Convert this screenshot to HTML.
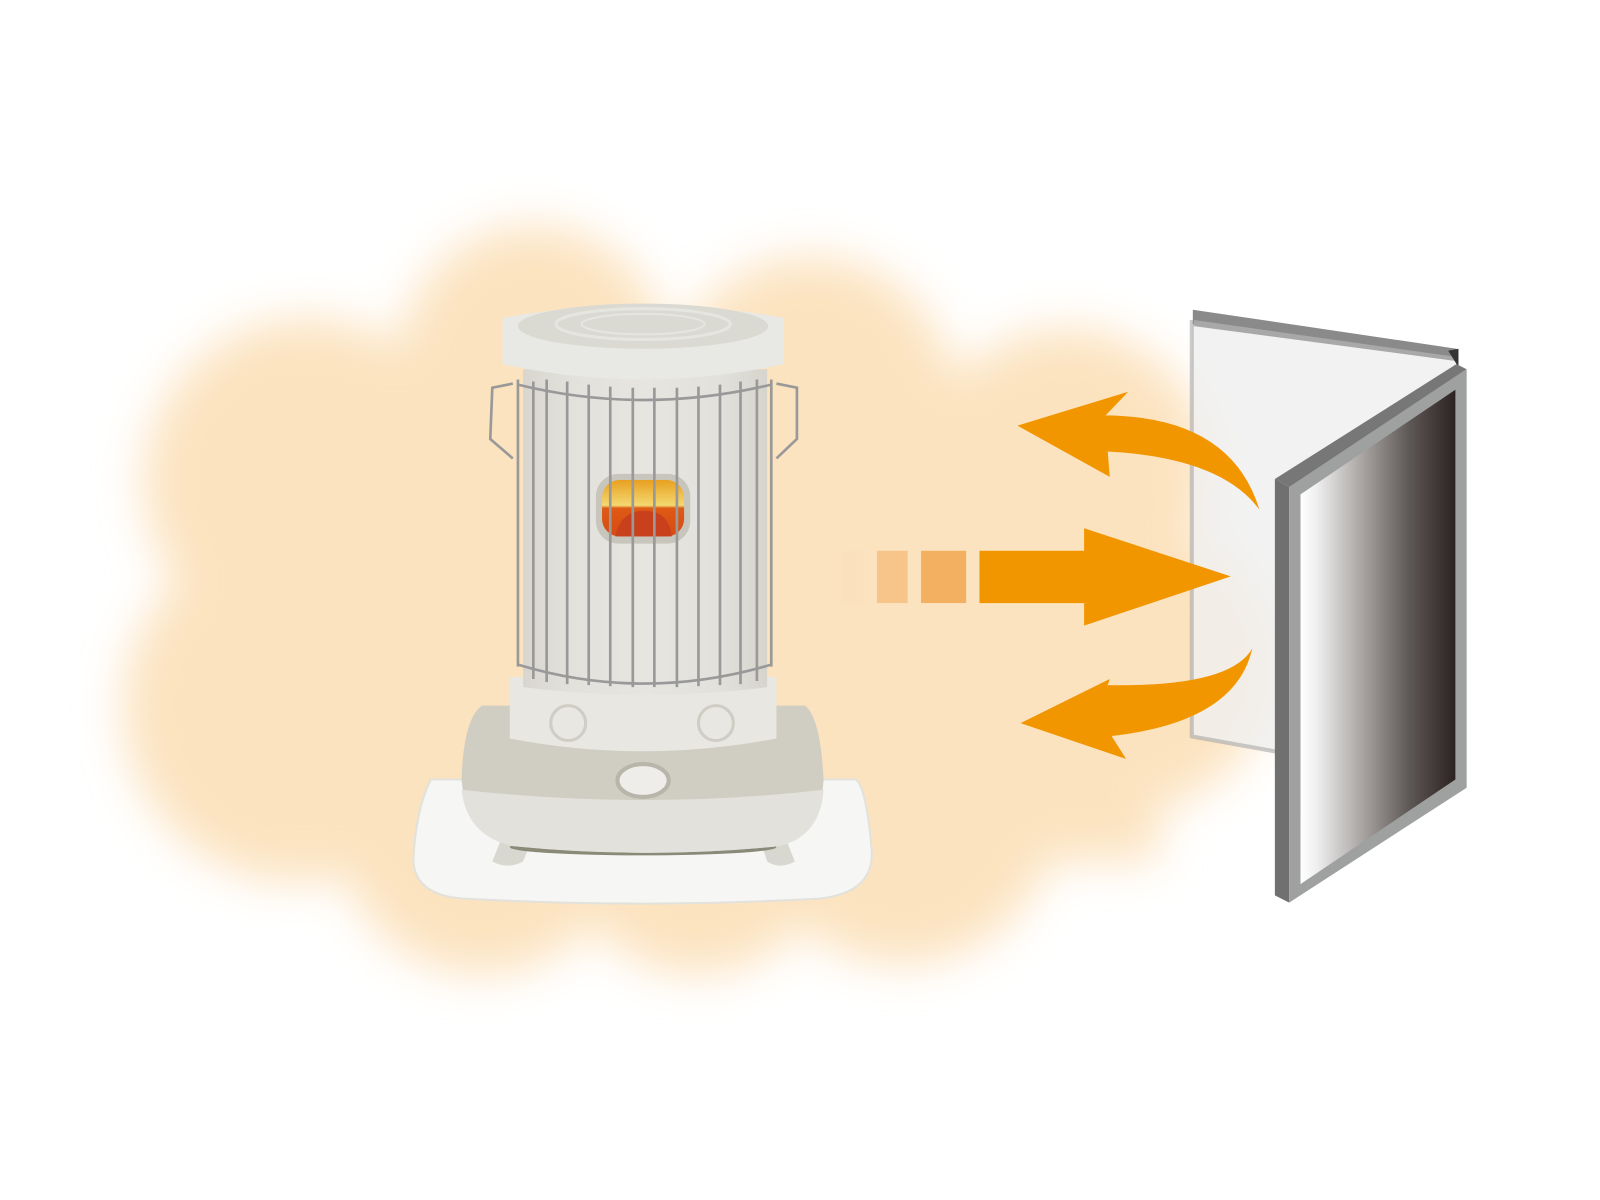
<!DOCTYPE html>
<html><head><meta charset="utf-8"><style>html,body{margin:0;padding:0;background:#fff}svg{display:block}</style></head>
<body>
<svg width="1600" height="1200" viewBox="0 0 1560 1170" xmlns="http://www.w3.org/2000/svg">
<defs>
<filter id="bl" x="-20%" y="-20%" width="140%" height="140%"><feGaussianBlur stdDeviation="22"/></filter>
<linearGradient id="flame" x1="0" y1="0" x2="0" y2="1">
<stop offset="0" stop-color="#e8a020"/><stop offset="0.45" stop-color="#f3d870"/><stop offset="0.5" stop-color="#dd5a14"/><stop offset="1" stop-color="#d84a14"/></linearGradient>
<linearGradient id="mirror" x1="0" y1="0" x2="1" y2="0">
<stop offset="0" stop-color="#ffffff"/><stop offset="0.1" stop-color="#f0f0f0"/><stop offset="0.4" stop-color="#a8a4a2"/><stop offset="0.7" stop-color="#5e5856"/><stop offset="1" stop-color="#2c2222"/></linearGradient>
<linearGradient id="body" x1="0" y1="0" x2="1" y2="0">
<stop offset="0" stop-color="#d8d6ce"/><stop offset="0.2" stop-color="#e2e1dc"/><stop offset="0.5" stop-color="#e6e5e0"/><stop offset="0.8" stop-color="#e2e1dc"/><stop offset="1" stop-color="#d6d4cc"/></linearGradient>
</defs>
<g fill="#fce3c0" filter="url(#bl)">
<circle cx="300" cy="470" r="160"/><circle cx="520" cy="350" r="130"/><circle cx="790" cy="390" r="140"/>
<circle cx="1040" cy="460" r="140"/><circle cx="290" cy="690" r="170"/><circle cx="470" cy="810" r="140"/>
<circle cx="680" cy="820" r="130"/><circle cx="880" cy="790" r="150"/><circle cx="1100" cy="650" r="140"/>
<rect x="280" y="360" width="850" height="480"/>
</g>
<!-- reflector back panel -->
<path d="M1162 312 L1420 345 L1420 740 L1245 733 L1162 718 Z" fill="#efefef" fill-opacity="0.8"/>
<path d="M1162 312 L1162 718 L1245 733" fill="none" stroke="#a8a8a8" stroke-width="4" stroke-opacity="0.6"/>
<path d="M1163 302 L1420 340 L1420 352 L1163 316 Z" fill="#8a8a8a"/>
<path d="M1164 312 L1420 348 L1420 352 L1164 318 Z" fill="#a8a8a8"/>
<path d="M1412 342 L1422 340 L1422 358 Z" fill="#333"/>
<!-- mat -->
<path d="M420 760 L835 760 Q845 770 850 830 Q852 870 800 876 Q630 886 450 876 Q405 872 403 840 Q405 790 420 760 Z" fill="#f6f6f4" stroke="#e2e1dc" stroke-width="2"/>
<path d="M490 815 L520 815 L510 840 Q495 848 480 840 Z" fill="#d8d7d0"/>
<path d="M740 815 L765 815 L775 840 Q760 848 748 840 Z" fill="#d8d7d0"/>
<ellipse cx="627" cy="826" rx="130" ry="8" fill="#8a8a78"/>
<path d="M470 688 L785 688 Q800 700 803 760 Q800 815 760 825 Q630 838 500 825 Q455 815 450 760 Q452 700 470 688 Z" fill="#d0cdc2"/>
<path d="M450 770 Q630 790 803 770 Q800 815 760 825 Q630 838 500 825 Q455 815 450 770 Z" fill="#e2e1dc"/>
<ellipse cx="627" cy="761" rx="25" ry="16" fill="#eeede9" stroke="#b8b6aa" stroke-width="4"/>
<path d="M497 660 L757 660 L757 720 Q627 745 497 720 Z" fill="#e8e7e2"/>
<circle cx="554" cy="705" r="17" fill="#e8e7e2" stroke="#cfcdc4" stroke-width="3"/>
<circle cx="698" cy="705" r="17" fill="#e8e7e2" stroke="#cfcdc4" stroke-width="3"/>
<path d="M510 360 L748 360 L748 670 Q627 685 510 670 Z" fill="url(#body)"/>
<rect x="581" y="462" width="92" height="68" rx="22" fill="#c8c6bc"/>
<rect x="587" y="468" width="80" height="55" rx="17" fill="url(#flame)"/>
<path d="M600 523 Q605 498 628 498 Q652 498 655 523 Z" fill="#c8401c"/>
<path d="M490 310 Q627 285 764 310 L764 355 Q627 385 490 355 Z" fill="#e8e8e4"/>
<ellipse cx="627" cy="318" rx="122" ry="22" fill="#dadad2"/>
<ellipse cx="627" cy="316" rx="85" ry="15" fill="none" stroke="#e6e6e0" stroke-width="3"/>
<ellipse cx="627" cy="316" rx="60" ry="10" fill="none" stroke="#e6e6e0" stroke-width="2"/>
<g stroke="#999" stroke-width="2.6" fill="none">
<path d="M505 375 Q627 405 752 375"/>
<path d="M505 648 Q627 685 752 648"/>
<path d="M505 370 L505 650"/><path d="M752 370 L752 650"/>
<path d="M520 372 L520 662"/><path d="M533 370 L533 665"/><path d="M553 372 L553 667"/>
<path d="M574 375 L574 668"/><path d="M595 377 L595 669"/><path d="M617 378 L617 670"/>
<path d="M638 378 L638 670"/><path d="M660 378 L660 670"/><path d="M681 377 L681 669"/>
<path d="M702 375 L702 668"/><path d="M722 372 L722 667"/><path d="M738 370 L738 664"/>
<path d="M500 374 L480 378 L478 428 L500 447"/>
<path d="M757 374 L777 378 L777 428 L757 447"/>
</g>
<rect x="820" y="537" width="22" height="51" fill="#fae0bd"/>
<rect x="855" y="537" width="30" height="51" fill="#f7c58a"/>
<rect x="898" y="537" width="44" height="51" fill="#f3b060"/>
<path d="M955 537 L1057 537 L1057 515 L1200 562 L1057 610 L1057 588 L955 588 Z" fill="#f29600"/>
<path d="M1075 405 Q1200 405 1228 497 Q1190 445 1075 440 Z" fill="#f29600"/>
<path d="M1100 382 L992 415 L1082 465 L1080 440 L1078 405 Z" fill="#f29600"/>
<path d="M1080 668 Q1200 670 1221 632 Q1205 705 1080 718 Z" fill="#f29600"/>
<path d="M1082 662 L995 705 L1098 740 L1084 718 L1080 668 Z" fill="#f29600"/>
<path d="M1243 467 L1420 355 L1430 360 L1257 475 Z" fill="#777"/>
<path d="M1243 467 L1257 475 L1257 880 L1243 873 Z" fill="#707070"/>
<path d="M1257 475 L1430 360 L1430 768 L1257 880 Z" fill="#9fa0a0"/>
<path d="M1268 482 L1419 380 L1419 760 L1268 862 Z" fill="url(#mirror)"/>
</svg>
</body></html>
